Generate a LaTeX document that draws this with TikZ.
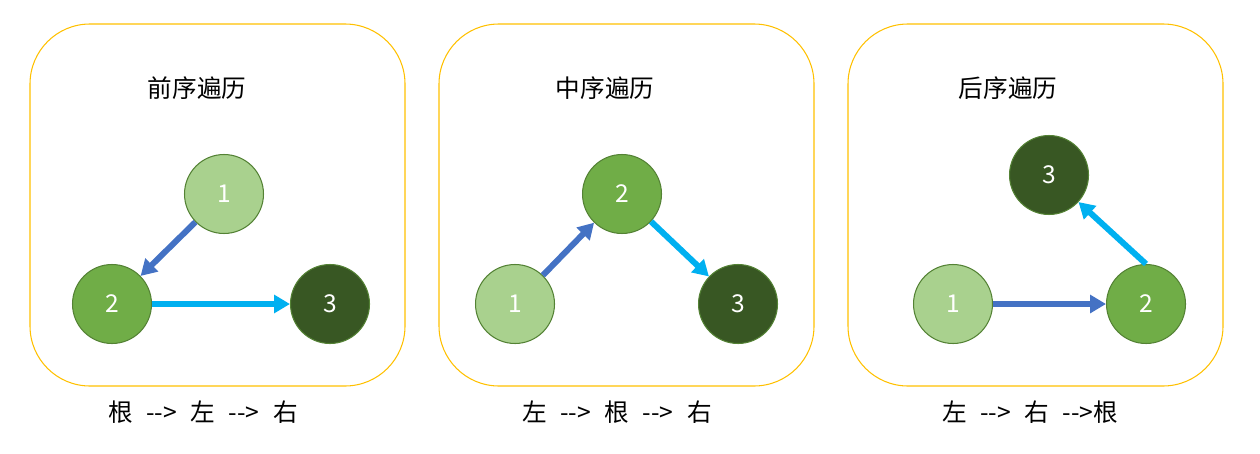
\documentclass[tikz,border=0pt]{standalone}
\usepackage{fontspec}
\setmainfont[Ligatures=NoCommon]{Noto Sans CJK SC}
\usetikzlibrary{arrows.meta}
\definecolor{framey}{HTML}{FFC000}
\definecolor{rim}{HTML}{548235}
\definecolor{lightg}{HTML}{A9D18E}
\definecolor{midg}{HTML}{70AD47}
\definecolor{darkg}{HTML}{385723}
\definecolor{blueA}{HTML}{4472C4}
\definecolor{cyanA}{HTML}{00B0F0}
% dashes and arrow between two words, with a wide gap on each side
\newcommand{\goesto}[1][0.55em]{\hspace{0.55em}-{}-{}>\hspace{#1}}
\tikzset{
  knot/.style={circle, draw=rim, line width=0.6pt, minimum size=1.58cm,
               inner sep=0pt, text=white, font=\fontsize{14}{16}\selectfont},
  lightknot/.style={knot, fill=lightg},
  midknot/.style={knot, fill=midg},
  darkknot/.style={knot, fill=darkg},
  go/.style={line width=3.4pt, -{Triangle[length=9pt,width=10pt]}},
  caption/.style={font=\fontsize{14}{16}\selectfont}
}
\begin{document}
\begin{tikzpicture}[x=0.02cm,y=-0.02cm]
                \useasboundingbox (0,0) rectangle (1260,453);
                % 1) the three rounded frames
                \foreach \x in {30,439,848}
                    \draw[framey, line width=0.6pt, rounded corners=1.2cm]
                         (\x,24) rectangle ++(375,362);
                % 2) pre-order: root, left, right
                \node[caption] (preT) at (197,88) {前序遍历};
                \node[lightknot] (preA) at (224,194) {1};
                \node[midknot] (preB) at (112,304) {2};
                \node[darkknot] (preC) at (330,304) {3};
                \draw[go, blueA] (preA) -- (preB);
                \draw[go, cyanA] (preB) -- (preC);
                \node[caption] (preL) at (203,412) {根\goesto{}左\goesto{}右};
                % 3) in-order: left, root, right
                \node[caption] (inT) at (605,88) {中序遍历};
                \node[midknot] (inB) at (622,194) {2};
                \node[lightknot] (inA) at (515,304) {1};
                \node[darkknot] (inC) at (738,304) {3};
                \draw[go, blueA] (inA) -- (inB);
                \draw[go, cyanA] (inB) -- (inC);
                \node[caption] (inL) at (617,412) {左\goesto{}根\goesto{}右};
                % 4) post-order: left, right, root
                \node[caption] (postT) at (1008,88) {后序遍历};
                \node[darkknot] (postC) at (1049,175) {3};
                \node[lightknot] (postA) at (953,304) {1};
                \node[midknot] (postB) at (1146,304) {2};
                \draw[go, blueA] (postA) -- (postB);
                \draw[go, cyanA] (postB.north) -- (postC);
                \node[caption] (postL) at (1030,412) {左\goesto{}右\goesto[0pt]根};
\end{tikzpicture}
\end{document}
